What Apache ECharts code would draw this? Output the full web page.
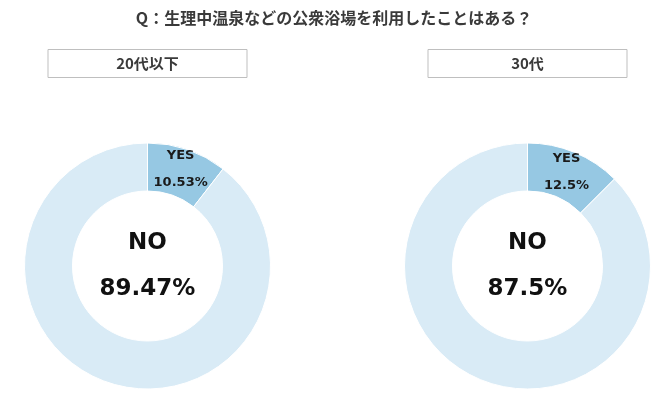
<!DOCTYPE html>
<html><head><meta charset="utf-8">
<script src="https://cdn.jsdelivr.net/npm/echarts@6/dist/echarts.min.js"></script>
<style>html,body{margin:0;padding:0;background:#fff}#c{width:668px;height:393px}</style>
</head><body><div id="c"></div>
<script>
const titleText = 'Q：生理中温泉などの公衆浴場を利用したことはある？';
const groups = ['20代以下', '30代'];
const answers = ['YES', 'NO'];
const yesPct = [10.53, 12.5];
const noPct = [89.47, 87.5];

const centersX = [147.5, 527.5];
const colors = ['#96c8e3', '#d9ebf6'];
const font = '"DejaVu Sans", Verdana, sans-serif';
const cjk = '"Noto Sans CJK JP", sans-serif';

const chart = echarts.init(document.getElementById('c'));
const graphic = [];
groups.forEach((g, i) => {
  graphic.push({
    type: 'group', left: centersX[i] - 100, top: 49,
    children: [
      {type: 'rect', shape: {x: 0.5, y: 0.5, width: 199, height: 28},
       style: {fill: '#fff', stroke: '#bfbfbf', lineWidth: 1}},
      {type: 'text', x: 100, y: 14.5,
       style: {text: g, fill: '#3a3a3a', font: 'bold 15px ' + cjk, align: 'center', verticalAlign: 'middle'}}
    ]
  });
});

const series = groups.map((g, i) => ({
  type: 'pie',
  name: g,
  center: [centersX[i], 266],
  radius: [75, 123],
  startAngle: 90,
  clockwise: true,
  avoidLabelOverlap: false,
  silent: true,
  labelLine: {show: false},
  itemStyle: {borderColor: '#fff', borderWidth: 1},
  data: [
    {name: answers[0], value: yesPct[i], itemStyle: {color: colors[0]},
     label: {show: true, position: 'inside',
       formatter: p => '{a|' + p.name + '}\n{a|' + p.value + '%}',
       rich: {a: {fontFamily: font, fontWeight: 'bold', fontSize: 13, color: '#1a1a1a', lineHeight: 27, align: 'center'}}}},
    {name: answers[1], value: noPct[i], itemStyle: {color: colors[1]},
     label: {show: true, position: 'center',
       formatter: p => '{b|' + p.name + '}\n{b|' + p.value + '%}',
       rich: {b: {fontFamily: font, fontWeight: 'bold', fontSize: 23, color: '#111', lineHeight: 46, align: 'center'}}}}
  ]
}));

chart.setOption({
  animation: false,
  title: {text: titleText, left: 'center', top: 5,
    textStyle: {fontFamily: cjk, fontWeight: 'bold', fontSize: 16, color: '#3a3a3a'}},
  graphic: graphic,
  series: series
});
</script></body></html>
